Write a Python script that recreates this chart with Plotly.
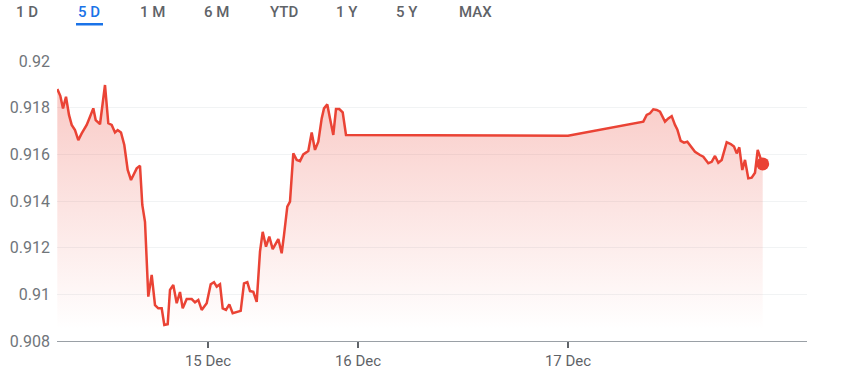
import plotly.graph_objects as go

# position along the (gapped) trading-time axis
t = [0.3, 3.3, 6, 9, 12, 14.7, 18, 21.3, 24.7, 29.7, 33, 36.3, 38.7, 43, 48, 51.3, 54.7, 58, 60.7, 64,
     67.3, 70.7, 74, 77.3, 79.7, 83, 85.3, 88, 91.3, 94.7, 98, 101.3, 104.7, 107.3, 110.7, 113, 116.3, 119.7, 123, 125.7,
     129.7, 134.7, 138, 141.3, 144.7, 149.7, 153.7, 157, 159.7, 163, 165.7, 169, 172.3, 175.7, 179, 183.7, 187, 190.3, 193, 196.3,
     199.7, 203, 205.7, 209, 212.3, 215.7, 221.3, 224.7, 227, 230.3, 233, 236.3, 239.7, 243, 246.3, 251.3, 254.7, 258, 261.3, 264.7,
     267, 270.3, 273, 276.3, 279, 282.3, 285.7, 289, 511, 586.3, 589.7, 593, 596.3, 599.7, 603, 608, 611.3, 614.7, 618, 620.3,
     623.7, 627, 630.3, 633.7, 638, 643, 646.3, 651.3, 654.7, 658, 661.3, 664.7, 669.7, 673.7, 677, 679.7, 682.3, 685.3, 688, 691.3,
     694.7, 698, 700.7, 703, 705.7]
rate = [0.9188, 0.91851, 0.91797, 0.91847, 0.91769, 0.91726, 0.91704, 0.91661, 0.9169, 0.91726, 0.91761, 0.91797, 0.91747, 0.91729, 0.91897, 0.91733, 0.91726, 0.91694, 0.91704, 0.91694,
        0.9164, 0.91533, 0.9149, 0.91519, 0.9154, 0.91551, 0.91383, 0.91311, 0.9099, 0.91083, 0.90954, 0.9094, 0.9094, 0.90869, 0.90872, 0.91019, 0.9104, 0.90962, 0.9101, 0.9094,
        0.9098, 0.9098, 0.90966, 0.90976, 0.90933, 0.90962, 0.91043, 0.91052, 0.91033, 0.91043, 0.9094, 0.90933, 0.90957, 0.90919, 0.90923, 0.90929, 0.91047, 0.91052, 0.91014, 0.91011,
        0.90968, 0.91183, 0.91268, 0.91204, 0.91247, 0.91194, 0.91237, 0.91176, 0.91254, 0.91376, 0.91397, 0.91604, 0.91576, 0.91571, 0.916, 0.91614, 0.91694, 0.91619, 0.91654, 0.91754,
        0.91797, 0.91814, 0.91754, 0.91683, 0.91794, 0.91794, 0.9178, 0.91683, 0.9168, 0.9174, 0.91769, 0.91776, 0.91793, 0.9179, 0.91783, 0.9174, 0.91754, 0.91764, 0.91726, 0.91707,
        0.91658, 0.9165, 0.91654, 0.91633, 0.91611, 0.91597, 0.9159, 0.91562, 0.91568, 0.91593, 0.91564, 0.91576, 0.91652, 0.91644, 0.91633, 0.91604, 0.9163, 0.91533, 0.91576, 0.91497,
        0.915, 0.91521, 0.91619, 0.9159, 0.91559]

x_tick_vals = [151, 301, 511]
x_tick_text = ["15 Dec", "16 Dec", "17 Dec"]
y_tick_vals = [0.908, 0.910, 0.912, 0.914, 0.916, 0.918, 0.920]
y_tick_text = ["0.908", "0.91", "0.912", "0.914", "0.916", "0.918", "0.92"]
ranges = ["1 D", "5 D", "1 M", "6 M", "YTD", "1 Y", "5 Y", "MAX"]
range_px = [27, 89, 152, 216, 284, 347, 407, 475]
active = "5 D"

RED = "#ea4335"
L, R, T, B = 57, 34, 61, 51
W, H = 841, 392
pw, ph = W - L - R, H - T - B


def px_x(px):
    return (px - L) / pw


def px_y(py):
    return (H - B - py) / ph


fig = go.Figure()
fig.add_trace(go.Scatter(
    x=t, y=rate, mode="lines",
    line=dict(color=RED, width=2.5),
    fill="tozeroy",
    fillgradient=dict(type="vertical", start=0.9085, stop=0.9195,
                      colorscale=[[0, "rgba(234,67,53,0)"], [1, "rgba(234,67,53,0.3)"]]),
    hoverinfo="skip", showlegend=False,
))
fig.add_trace(go.Scatter(
    x=[t[-1]], y=[rate[-1]], mode="markers",
    marker=dict(color=RED, size=13), hoverinfo="skip", showlegend=False,
))

annotations = []
for lab, px in zip(ranges, range_px):
    annotations.append(dict(
        text=lab, x=px_x(px), y=px_y(12), xref="paper", yref="paper",
        xanchor="center", yanchor="middle", showarrow=False,
        font=dict(family="Roboto", size=15, weight=500,
                  color="#1a73e8" if lab == active else "#5f6368"),
    ))
ai = ranges.index(active)
fig.update_layout(
    width=W, height=H,
    margin=dict(l=L, r=R, t=T, b=B, autoexpand=False),
    paper_bgcolor="white", plot_bgcolor="white",
    annotations=annotations,
    shapes=[dict(type="rect", xref="paper", yref="paper",
                 x0=px_x(range_px[ai] - 13), x1=px_x(range_px[ai] + 14),
                 y0=px_y(25.5), y1=px_y(23),
                 fillcolor="#1a73e8", line=dict(width=0))],
    xaxis=dict(range=[0, 750], tickvals=x_tick_vals, ticktext=x_tick_text,
               showgrid=False, zeroline=False, showline=True, linecolor="#9aa0a6", linewidth=1,
               ticks="outside", ticklen=6, tickcolor="#5f6368", tickwidth=2,
               tickfont=dict(family="Roboto", size=15, color="#5f6368")),
    yaxis=dict(range=[0.908, 0.92], tickvals=y_tick_vals, ticktext=y_tick_text,
               showgrid=True, gridcolor="#f1f3f4", zeroline=False, showline=False,
               ticklabelstandoff=6,
               tickfont=dict(family="Roboto", size=16, color="#70757a")),
)
fig.write_html("out.html", config={"displayModeBar": False},
               post_script="document.body.style.margin='0';")
